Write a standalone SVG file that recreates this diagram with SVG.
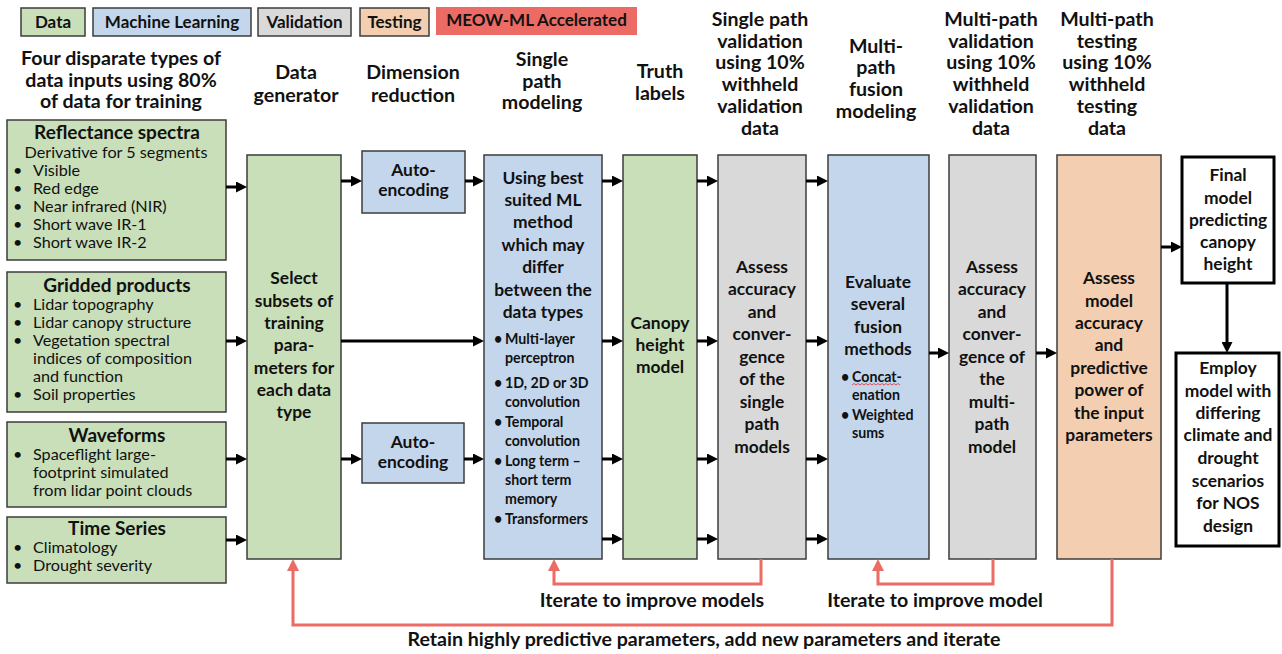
<svg xmlns="http://www.w3.org/2000/svg" width="1282" height="654" viewBox="0 0 1282 654">
<defs>
<style>
text{font-family:Lato,"Liberation Sans",sans-serif;fill:#111;}
.h{font-size:19.6px;font-weight:bold;text-anchor:middle;}
.lg{font-size:17px;font-weight:bold;text-anchor:middle;}
.t{font-size:19px;font-weight:bold;text-anchor:middle;}
.i{font-size:16.2px;}
.b{font-size:17.4px;font-weight:bold;text-anchor:middle;}
.s{font-size:14.2px;font-weight:bold;}
.g{fill:#c9dfb9;stroke:#3c3c3c;stroke-width:1.5;}
.bl{fill:#c3d6ec;stroke:#3c3c3c;stroke-width:1.5;}
.gr{fill:#d9d9d9;stroke:#3c3c3c;stroke-width:1.5;}
.or{fill:#f3ceb0;stroke:#3c3c3c;stroke-width:1.5;}
.w{fill:#fff;stroke:#000;stroke-width:3;}
.ar{fill:none;stroke:#000;stroke-width:3;marker-end:url(#ah);}
.rr{fill:none;stroke:#ec6b64;stroke-width:3;marker-end:url(#rh);}
</style>
<marker id="ah" markerUnits="userSpaceOnUse" markerWidth="11" markerHeight="11" refX="7" refY="5.5" orient="auto"><path d="M0,0 L11,5.5 L0,11 z" fill="#000"/></marker>
<marker id="rh" markerUnits="userSpaceOnUse" markerWidth="12" markerHeight="12" refX="8" refY="6" orient="auto"><path d="M0,0 L12,6 L0,12 z" fill="#ec6b64"/></marker>
</defs>

<g id="legend">
<rect x="21" y="8" width="64" height="28" class="g"/><text x="53" y="28" class="lg">Data</text>
<rect x="93" y="8" width="158" height="28" class="bl"/><text x="172" y="28" class="lg">Machine Learning</text>
<rect x="258" y="8" width="93" height="28" class="gr"/><text x="304.5" y="28" class="lg">Validation</text>
<rect x="360" y="8" width="69" height="28" class="or"/><text x="394.5" y="28" class="lg">Testing</text>
<rect x="436" y="7" width="201" height="28" fill="#ec6b64"/><text x="536.5" y="26" class="lg">MEOW-ML Accelerated</text>
</g>

<g id="headers">
<text class="h"><tspan x="121" y="65">Four disparate types of</tspan><tspan x="121" y="87">data inputs using 80%</tspan><tspan x="121" y="108">of data for training</tspan></text>
<text class="h"><tspan x="296" y="79">Data</tspan><tspan x="296" y="102">generator</tspan></text>
<text class="h"><tspan x="413" y="79">Dimension</tspan><tspan x="413" y="102">reduction</tspan></text>
<text class="h"><tspan x="542" y="66">Single</tspan><tspan x="542" y="88">path</tspan><tspan x="542" y="109">modeling</tspan></text>
<text class="h"><tspan x="660" y="78">Truth</tspan><tspan x="660" y="100">labels</tspan></text>
<text class="h"><tspan x="760" y="26">Single path</tspan><tspan x="760" y="48">validation</tspan><tspan x="760" y="69">using 10%</tspan><tspan x="760" y="91">withheld</tspan><tspan x="760" y="113">validation</tspan><tspan x="760" y="135">data</tspan></text>
<text class="h"><tspan x="876" y="53">Multi-</tspan><tspan x="876" y="74">path</tspan><tspan x="876" y="96">fusion</tspan><tspan x="876" y="118">modeling</tspan></text>
<text class="h"><tspan x="991" y="26">Multi-path</tspan><tspan x="991" y="48">validation</tspan><tspan x="991" y="69">using 10%</tspan><tspan x="991" y="91">withheld</tspan><tspan x="991" y="113">validation</tspan><tspan x="991" y="135">data</tspan></text>
<text class="h"><tspan x="1107" y="26">Multi-path</tspan><tspan x="1107" y="48">testing</tspan><tspan x="1107" y="69">using 10%</tspan><tspan x="1107" y="91">withheld</tspan><tspan x="1107" y="113">testing</tspan><tspan x="1107" y="135">data</tspan></text>
</g>

<g id="reflectance">
<rect x="7" y="120" width="219" height="140" class="g"/>
<text x="117" y="139" class="t">Reflectance spectra</text>
<text x="116" y="158" class="i" text-anchor="middle">Derivative for 5 segments</text>
<text class="i"><tspan x="13" y="176">•</tspan><tspan x="33" y="176">Visible</tspan><tspan x="13" y="194">•</tspan><tspan x="33" y="194">Red edge</tspan><tspan x="13" y="212">•</tspan><tspan x="33" y="212">Near infrared (NIR)</tspan><tspan x="13" y="230">•</tspan><tspan x="33" y="230">Short wave IR-1</tspan><tspan x="13" y="248">•</tspan><tspan x="33" y="248">Short wave IR-2</tspan></text>
</g>

<g id="gridded">
<rect x="7" y="272" width="219" height="140" class="g"/>
<text x="117" y="292" class="t">Gridded products</text>
<text class="i"><tspan x="13" y="310">•</tspan><tspan x="33" y="310">Lidar topography</tspan><tspan x="13" y="328">•</tspan><tspan x="33" y="328">Lidar canopy structure</tspan><tspan x="13" y="346">•</tspan><tspan x="33" y="346">Vegetation spectral</tspan><tspan x="33" y="364">indices of composition</tspan><tspan x="33" y="382">and function</tspan><tspan x="13" y="400">•</tspan><tspan x="33" y="400">Soil properties</tspan></text>
</g>

<g id="waveforms">
<rect x="7" y="422" width="219" height="85" class="g"/>
<text x="117" y="442" class="t">Waveforms</text>
<text class="i"><tspan x="13" y="460">•</tspan><tspan x="33" y="460">Spaceflight large-</tspan><tspan x="33" y="478">footprint simulated</tspan><tspan x="33" y="496">from lidar point clouds</tspan></text>
</g>

<g id="timeseries">
<rect x="7" y="517" width="219" height="66" class="g"/>
<text x="117" y="535" class="t">Time Series</text>
<text class="i"><tspan x="13" y="553">•</tspan><tspan x="33" y="553">Climatology</tspan><tspan x="13" y="571">•</tspan><tspan x="33" y="571">Drought severity</tspan></text>
</g>

<g id="generator">
<rect x="247" y="155" width="94" height="404" class="g"/>
<text class="b"><tspan x="294" y="284">Select</tspan><tspan x="294" y="307">subsets of</tspan><tspan x="294" y="329">training</tspan><tspan x="294" y="351">para-</tspan><tspan x="294" y="374">meters for</tspan><tspan x="294" y="396">each data</tspan><tspan x="294" y="418">type</tspan></text>
</g>

<g id="autoenc1">
<rect x="362" y="151" width="103" height="62" class="bl"/>
<text class="b"><tspan x="413.5" y="176">Auto-</tspan><tspan x="413.5" y="196">encoding</tspan></text>
</g>
<g id="autoenc2">
<rect x="362" y="423" width="102" height="60" class="bl"/>
<text class="b"><tspan x="413" y="448">Auto-</tspan><tspan x="413" y="468">encoding</tspan></text>
</g>

<g id="singlepath">
<rect x="484" y="155" width="118" height="404" class="bl"/>
<text class="b"><tspan x="543" y="184">Using best</tspan><tspan x="543" y="206">suited ML</tspan><tspan x="543" y="228">method</tspan><tspan x="543" y="251">which may</tspan><tspan x="543" y="273">differ</tspan><tspan x="543" y="296">between the</tspan><tspan x="543" y="318">data types</tspan></text>
<text class="s"><tspan x="494" y="344">•</tspan><tspan x="505" y="344">Multi-layer</tspan><tspan x="505" y="363">perceptron</tspan><tspan x="494" y="388">•</tspan><tspan x="505" y="388">1D, 2D or 3D</tspan><tspan x="505" y="407">convolution</tspan><tspan x="494" y="427">•</tspan><tspan x="505" y="427">Temporal</tspan><tspan x="505" y="446">convolution</tspan><tspan x="494" y="466">•</tspan><tspan x="505" y="466">Long term –</tspan><tspan x="505" y="485">short term</tspan><tspan x="505" y="504">memory</tspan><tspan x="494" y="524">•</tspan><tspan x="505" y="524">Transformers</tspan></text>
</g>

<g id="canopy">
<rect x="623" y="155" width="74" height="404" class="g"/>
<text class="b"><tspan x="660" y="329">Canopy</tspan><tspan x="660" y="351">height</tspan><tspan x="660" y="373">model</tspan></text>
</g>

<g id="singleval">
<rect x="718" y="155" width="88" height="404" class="gr"/>
<text class="b"><tspan x="762" y="273">Assess</tspan><tspan x="762" y="295">accuracy</tspan><tspan x="762" y="318">and</tspan><tspan x="762" y="340">conver-</tspan><tspan x="762" y="363">gence</tspan><tspan x="762" y="385">of the</tspan><tspan x="762" y="408">single</tspan><tspan x="762" y="430">path</tspan><tspan x="762" y="453">models</tspan></text>
</g>

<g id="fusion">
<rect x="828" y="155" width="101" height="404" class="bl"/>
<text class="b"><tspan x="878" y="288">Evaluate</tspan><tspan x="878" y="310">several</tspan><tspan x="878" y="333">fusion</tspan><tspan x="878" y="355">methods</tspan></text>
<text class="s"><tspan x="841" y="382">•</tspan><tspan x="852" y="382">Concat-</tspan><tspan x="852" y="400">enation</tspan><tspan x="841" y="420">•</tspan><tspan x="852" y="420">Weighted</tspan><tspan x="852" y="438">sums</tspan></text>
<path d="M852,385 l2,-1.5 l2,1.5 l2,-1.5 l2,1.5 l2,-1.5 l2,1.5 l2,-1.5 l2,1.5 l2,-1.5 l2,1.5 l2,-1.5 l2,1.5 l2,-1.5 l2,1.5 l2,-1.5 l2,1.5 l2,-1.5 l2,1.5 l2,-1.5 l2,1.5 l2,-1.5 l2,1.5 l2,-1.5 l2,1.5" fill="none" stroke="#e03030" stroke-width="0.8"/>
</g>

<g id="multival">
<rect x="949" y="155" width="87" height="404" class="gr"/>
<text class="b"><tspan x="992" y="273">Assess</tspan><tspan x="992" y="295">accuracy</tspan><tspan x="992" y="318">and</tspan><tspan x="992" y="340">conver-</tspan><tspan x="992" y="363">gence of</tspan><tspan x="992" y="385">the</tspan><tspan x="992" y="408">multi-</tspan><tspan x="992" y="430">path</tspan><tspan x="992" y="453">model</tspan></text>
</g>

<g id="testing">
<rect x="1057" y="155" width="104" height="404" class="or"/>
<text class="b"><tspan x="1109" y="284">Assess</tspan><tspan x="1109" y="307">model</tspan><tspan x="1109" y="329">accuracy</tspan><tspan x="1109" y="351">and</tspan><tspan x="1109" y="374">predictive</tspan><tspan x="1109" y="396">power of</tspan><tspan x="1109" y="419">the input</tspan><tspan x="1109" y="441">parameters</tspan></text>
</g>

<g id="final">
<rect x="1182" y="157" width="92" height="126" class="w"/>
<text class="b"><tspan x="1228" y="181">Final</tspan><tspan x="1228" y="204">model</tspan><tspan x="1228" y="226">predicting</tspan><tspan x="1228" y="248">canopy</tspan><tspan x="1228" y="270">height</tspan></text>
</g>

<g id="employ">
<rect x="1176" y="353" width="103" height="193" class="w"/>
<text class="b"><tspan x="1228" y="374">Employ</tspan><tspan x="1228" y="397">model with</tspan><tspan x="1228" y="419">differing</tspan><tspan x="1228" y="441">climate and</tspan><tspan x="1228" y="464">drought</tspan><tspan x="1228" y="487">scenarios</tspan><tspan x="1228" y="509">for NOS</tspan><tspan x="1228" y="532">design</tspan></text>
</g>

<g id="connectors">
<path class="ar" d="M226,187 H243"/>
<path class="ar" d="M226,341 H243"/>
<path class="ar" d="M226,459 H243"/>
<path class="ar" d="M226,540 H243"/>
<path class="ar" d="M341,181 H358"/>
<path class="ar" d="M341,341 H480"/>
<path class="ar" d="M341,459 H358"/>
<path class="ar" d="M465,181 H480"/>
<path class="ar" d="M464,459 H480"/>
<path class="ar" d="M602,181 H619"/>
<path class="ar" d="M602,341 H619"/>
<path class="ar" d="M602,459 H619"/>
<path class="ar" d="M602,539 H619"/>
<path class="ar" d="M697,181 H714"/>
<path class="ar" d="M697,341 H714"/>
<path class="ar" d="M697,459 H714"/>
<path class="ar" d="M697,539 H714"/>
<path class="ar" d="M806,181 H824"/>
<path class="ar" d="M806,341 H824"/>
<path class="ar" d="M806,459 H824"/>
<path class="ar" d="M806,539 H824"/>
<path class="ar" d="M929,353 H945"/>
<path class="ar" d="M1036,353 H1053"/>
<path class="ar" d="M1161,247 H1178"/>
<path class="ar" d="M1227,283 V349"/>
<path class="rr" d="M761,559 V584 H554 V563"/>
<path class="rr" d="M993,559 V584 H878 V563"/>
<path class="rr" d="M1112,559 V625 H293 V563"/>
</g>

<g id="labels">
<text x="652" y="607" class="h">Iterate to improve models</text>
<text x="935" y="607" class="h">Iterate to improve model</text>
<text x="704" y="646" class="h">Retain highly predictive parameters, add new parameters and iterate</text>
</g>
</svg>
